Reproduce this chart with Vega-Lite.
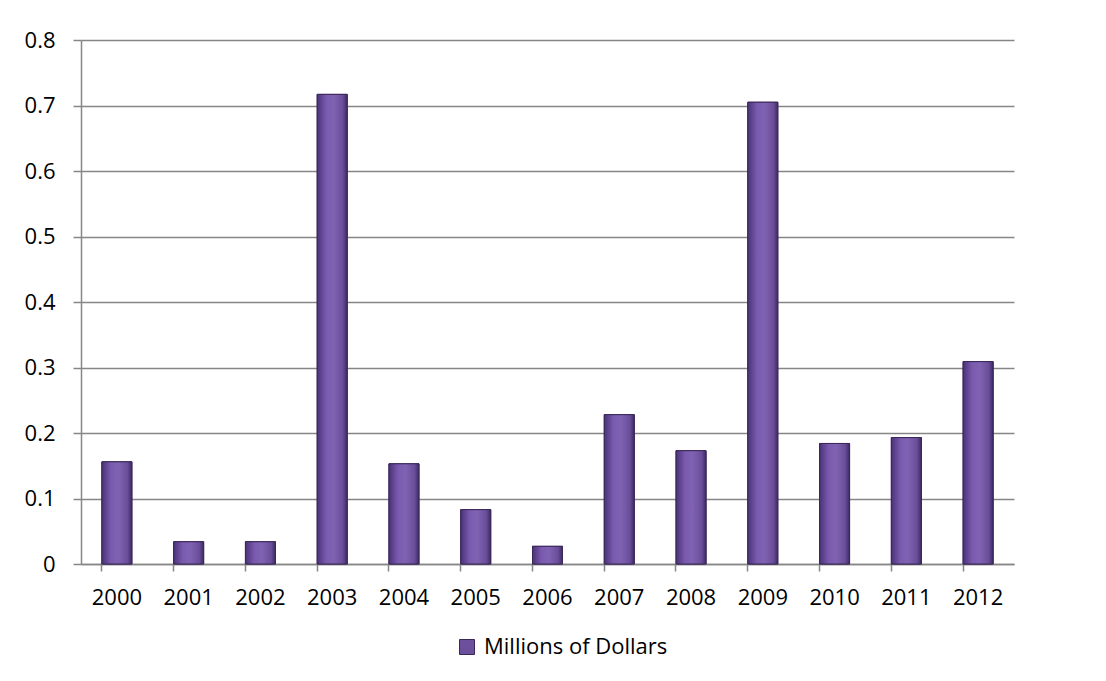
{
  "$schema": "https://vega.github.io/schema/vega-lite/v6.json",
  "width": 933,
  "height": 524,
  "autosize": {"type": "none"},
  "padding": {"left": 81, "top": 40, "right": 92, "bottom": 117},
  "background": "white",
  "config": {
    "font": "Open Sans",
    "view": {"stroke": null}
  },
  "data": {
    "values": [
      {"year": "2000", "value": 0.156, "series": "Millions of Dollars"},
      {"year": "2001", "value": 0.034, "series": "Millions of Dollars"},
      {"year": "2002", "value": 0.034, "series": "Millions of Dollars"},
      {"year": "2003", "value": 0.717, "series": "Millions of Dollars"},
      {"year": "2004", "value": 0.153, "series": "Millions of Dollars"},
      {"year": "2005", "value": 0.083, "series": "Millions of Dollars"},
      {"year": "2006", "value": 0.027, "series": "Millions of Dollars"},
      {"year": "2007", "value": 0.228, "series": "Millions of Dollars"},
      {"year": "2008", "value": 0.173, "series": "Millions of Dollars"},
      {"year": "2009", "value": 0.705, "series": "Millions of Dollars"},
      {"year": "2010", "value": 0.184, "series": "Millions of Dollars"},
      {"year": "2011", "value": 0.193, "series": "Millions of Dollars"},
      {"year": "2012", "value": 0.309, "series": "Millions of Dollars"}
    ]
  },
  "encoding": {
    "x": {
      "field": "year", "type": "ordinal", "title": null,
      "scale": {"paddingInner": 0.58, "paddingOuter": 0.29},
      "axis": {
        "labelAngle": 0, "labelFontSize": 22, "labelColor": "#000000", "labelPadding": 16,
        "domainColor": "#868686", "domainWidth": 1.5,
        "tickColor": "#868686", "tickWidth": 1.5, "tickSize": 7, "bandPosition": 0,
        "grid": false
      }
    },
    "y": {
      "field": "value", "type": "quantitative", "title": null,
      "scale": {"domain": [0, 0.8], "nice": false},
      "axis": {
        "values": [0, 0.1, 0.2, 0.3, 0.4, 0.5, 0.6, 0.7, 0.8],
        "labelExpr": "datum.value == 0 ? '0' : format(datum.value, '.1f')",
        "labelFontSize": 22, "labelColor": "#000000", "labelPadding": 18,
        "domainColor": "#868686", "domainWidth": 1.5,
        "tickColor": "#868686", "tickWidth": 1.5, "tickSize": 8,
        "gridColor": "#868686", "gridWidth": 1.5
      }
    }
  },
  "layer": [
    {
      "mark": {"type": "bar", "width": 30, "stroke": "#3a2858", "strokeWidth": 1},
      "encoding": {
        "color": {
          "field": "series", "type": "nominal",
          "scale": {"range": ["#6c509e"]},
          "legend": {
            "orient": "none", "legendX": 375, "legendY": 596,
            "title": null, "symbolType": "square", "symbolSize": 225,
            "symbolStrokeColor": "#3a2858", "symbolStrokeWidth": 1, "symbolOpacity": 1,
            "labelFontSize": 22, "labelColor": "#000000", "labelOffset": 6, "labelLimit": 400
          }
        }
      }
    },
    {
      "mark": {
        "type": "bar", "width": 30, "stroke": "#3a2858", "strokeWidth": 1,
        "color": {"gradient": "linear", "x1": 0, "x2": 1, "y1": 0, "y2": 0,
          "stops": [
            {"offset": 0, "color": "#4a3278"},
            {"offset": 0.3, "color": "#7a5aae"},
            {"offset": 0.55, "color": "#8062b2"},
            {"offset": 0.85, "color": "#6a4e9a"},
            {"offset": 1, "color": "#3e2a62"}
          ]}
      }
    }
  ]
}
